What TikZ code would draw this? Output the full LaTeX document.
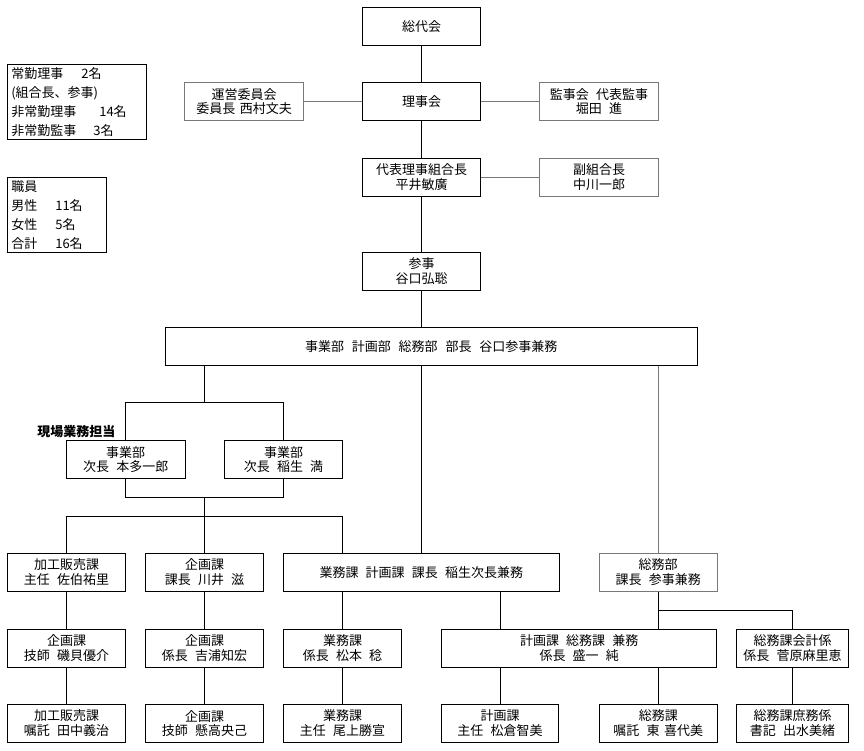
\documentclass[tikz,border=0pt]{standalone}
\usepackage{fontspec}
\setmainfont{Noto Sans CJK JP}
\definecolor{lgray}{RGB}{120,120,120}
\newcommand{\jsp}{\hspace{0.55em}}
\newcommand{\nsp}{\hspace{0.35em}}
\tikzset{
  orgbox/.style={draw=black, line width=1pt, fill=white, align=center, inner sep=0pt,
    minimum height=38pt, minimum width=118.4pt, font=\fontsize{13}{14.5}\selectfont},
  graybox/.style={orgbox, draw=lgray},
  infobox/.style={draw=black, line width=1pt, anchor=north west, inner xsep=3.5pt, inner ysep=0pt,
    align=left, font=\fontsize{13}{19}\selectfont},
  conn/.style={line width=1pt, draw=black},
  gconn/.style={line width=1pt, draw=lgray}
}
\begin{document}
\begin{tikzpicture}[x=1pt,y=-1pt]
\useasboundingbox (0,0) rectangle (864,751);
\fill[white] (0,0) rectangle (864,751);

% info boxes
\node[infobox, text width=131.4pt, minimum height=75.3pt] (info1) at (7.3,63.7)
  {\makebox[70pt][l]{常勤理事}2名\\(組合長、参事)\\\makebox[88pt][l]{非常勤理事}14名\\\makebox[82pt][l]{非常勤監事}3名};
\node[infobox, text width=92pt, minimum height=75pt] (info2) at (7.3,176.7)
  {職員\\\makebox[44pt][l]{男性}11名\\\makebox[44pt][l]{女性}5名\\\makebox[44pt][l]{合計}16名};

% top chain
\node[orgbox] (sodai) at (421.5,26.3) {総代会};
\node[orgbox] (rijikai) at (421.5,101.5) {理事会};
\node[graybox, minimum width=119pt] (unei) at (244.2,101.5) {運営委員会\\委員長\nsp 西村文夫};
\node[graybox, minimum width=119.4pt] (kanji) at (599,101.5) {監事会\jsp 代表監事\\堀田\jsp 進};
\node[orgbox] (daihyo) at (421.5,177.2) {代表理事組合長\\平井敏廣};
\node[graybox, minimum width=119.4pt] (fuku) at (599,177.2) {副組合長\\中川一郎};
\node[orgbox] (sanji) at (421.5,271.3) {参事\\谷口弘聡};
\node[orgbox, minimum width=532.3pt, minimum height=37.7pt] (big) at (431.2,346.2)
  {事業部\hspace{0.6em}計画部\hspace{0.6em}総務部\hspace{0.6em}部長\hspace{0.6em}谷口参事兼務};

% jigyo
\node[font=\bfseries\fontsize{13}{14.5}\selectfont, inner sep=0pt] (genba) at (76.3,431.7) {現場業務担当};
\node[orgbox, minimum width=118.7pt] (jigyoA) at (125.7,459.5) {事業部\\次長\jsp 本多一郎};
\node[orgbox, minimum width=118.4pt] (jigyoB) at (283.5,459.5) {事業部\\次長\jsp 稲生\jsp 満};

% row 1
\node[orgbox] (kako1) at (66.5,572.2) {加工販売課\\主任\jsp 佐伯祐里};
\node[orgbox] (kikaku1) at (204.5,572.2) {企画課\\課長\jsp 川井\jsp 滋};
\node[orgbox, minimum width=276pt] (gyomu) at (421.3,572.2) {業務課\jsp 計画課\jsp 課長\jsp 稲生次長兼務};
\node[graybox, minimum width=118.3pt] (somubu) at (658.2,572.2) {総務部\\課長\jsp 参事兼務};

% row 2
\node[orgbox] (kikaku2) at (66.5,648) {企画課\\技師\jsp 磯貝優介};
\node[orgbox] (kikaku3) at (204.5,648) {企画課\\係長\jsp 吉浦知宏};
\node[orgbox] (gyomu2) at (342.5,648) {業務課\\係長\jsp 松本\jsp 稔};
\node[orgbox, minimum width=275pt] (keikaku) at (579.2,648) {計画課\jsp 総務課\jsp 兼務\\係長\jsp 盛一\jsp 純};
\node[orgbox, minimum width=111.6pt] (kaikei) at (792.5,648) {総務課会計係\\係長\jsp 菅原麻里恵};

% row 3
\node[orgbox] (kako3) at (66.5,723.3) {加工販売課\\嘱託\jsp 田中義治};
\node[orgbox] (kikaku4) at (204.5,723.3) {企画課\\技師\jsp 懸高央己};
\node[orgbox] (gyomu3) at (342.5,723.3) {業務課\\主任\jsp 尾上勝宣};
\node[orgbox, minimum width=116.6pt] (keikaku3) at (500,723.3) {計画課\\主任\jsp 松倉智美};
\node[orgbox, minimum width=118pt] (somu3) at (658.3,723.3) {総務課\\嘱託\jsp 東\nsp 喜代美};
\node[orgbox, minimum width=111.6pt] (shomu) at (792.5,723.3) {総務課庶務係\\書記\jsp 出水美緒};

% coordinates
\coordinate (f1) at (204.5,402.7);
\coordinate (f2) at (204.5,497);
\coordinate (f3) at (204.5,516);
\coordinate (g1) at (342.5,516);
\coordinate (br) at (658.2,610.7);

% connectors
\draw[conn] (sodai) -- (rijikai);
\draw[conn] (rijikai) -- (daihyo);
\draw[gconn] (rijikai) -- (unei);
\draw[gconn] (rijikai) -- (kanji);
\draw[conn] (daihyo) -- (sanji);
\draw[gconn] (daihyo) -- (fuku);
\draw[conn] (sanji.south) -- (sanji.south |- big.north);
\draw[conn] (gyomu.north) -- (gyomu.north |- big.south);
\draw[conn] (big.south -| f1) -- (f1);
\draw[conn] (jigyoA.north) -- (jigyoA.north |- f1) -- (jigyoB.north |- f1) -- (jigyoB.north);
\draw[conn] (jigyoA.south) -- (jigyoA.south |- f2) -- (jigyoB.south |- f2) -- (jigyoB.south);
\draw[conn] (f2) -- (f3);
\draw[conn] (kako1.north) -- (kako1.north |- f3) -- (g1) -- (g1 |- gyomu.north);
\draw[conn] (f3) -- (kikaku1.north);
\draw[gconn] (somubu.north) -- (somubu.north |- big.south);

\draw[conn] (kako1) -- (kikaku2);
\draw[conn] (kikaku1) -- (kikaku3);
\draw[conn] (gyomu2.north) -- (gyomu2.north |- gyomu.south);
\draw[conn] (keikaku3.north |- gyomu.south) -- (keikaku3.north |- keikaku.north);
\draw[conn] (somubu.south) -- (somubu.south |- keikaku.north);
\draw[conn] (br) -- (br -| kaikei) -- (kaikei.north);

\draw[conn] (kikaku2) -- (kako3);
\draw[conn] (kikaku3) -- (kikaku4);
\draw[conn] (gyomu2) -- (gyomu3);
\draw[conn] (keikaku3.north) -- (keikaku3.north |- keikaku.south);
\draw[conn] (somu3.north) -- (somu3.north |- keikaku.south);
\draw[conn] (kaikei) -- (shomu);
\end{tikzpicture}
\end{document}
